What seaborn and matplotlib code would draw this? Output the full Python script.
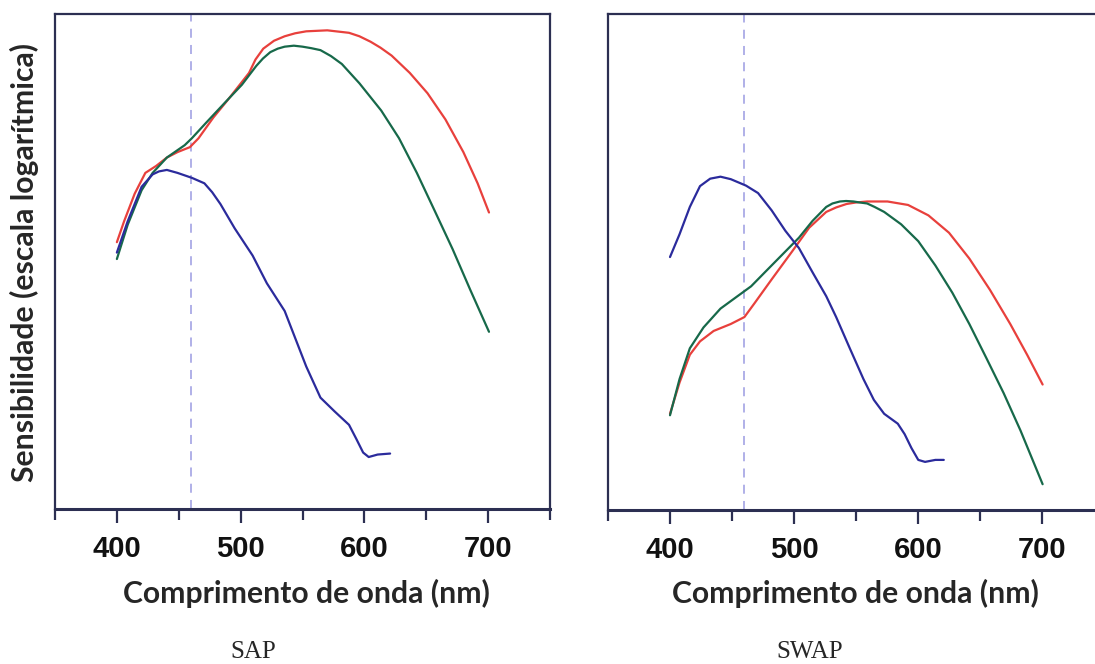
import numpy as np
import pandas as pd
import matplotlib
matplotlib.use('Agg')
import matplotlib.pyplot as plt
import seaborn as sns

# SAP panel (wavelength nm, relative log sensitivity)
sap_red_nm = [400, 405.8, 414.4, 423, 431.7, 440.4, 449, 459, 466, 478, 489.5, 506.8, 512, 518.3,
              527, 535.6, 544, 553, 570, 587.6, 596, 605, 613, 622, 636.7, 651, 665.5, 680, 691.5, 700.7]
sap_red = [53.9, 58.1, 63.7, 67.9, 69.3, 71.0, 72.1, 73.1, 74.9, 79.1, 82.6, 88.1, 90.8, 93.0,
           94.6, 95.5, 96.1, 96.5, 96.7, 96.2, 95.5, 94.4, 93.2, 91.6, 88.1, 84.0, 78.7, 72.1, 65.8, 59.9]
sap_green_nm = [400, 408.7, 420, 428.9, 440.4, 454.8, 460.6, 472, 486.6, 501, 512.6, 518, 524,
                530, 535.6, 543, 550, 557, 564.5, 573, 581.8, 596, 613.6, 628, 642.4, 656.9, 671.3,
                685.7, 700.7]
sap_green = [50.5, 57.4, 64.4, 67.9, 71.0, 73.5, 74.9, 78.0, 81.9, 85.7, 89.5, 91.0, 92.3,
             93.0, 93.4, 93.6, 93.4, 93.1, 92.7, 91.5, 89.9, 86.0, 80.5, 74.9, 67.9, 60.2, 52.5,
             44.2, 35.8]
sap_blue_nm = [400, 408.7, 420, 428.9, 434, 440.4, 449, 460.6, 470.7, 477, 483.7, 495.2, 509.7,
               521.2, 535.6, 544.3, 553, 564.5, 576, 587.6, 593.4, 599, 603.5, 610.7, 620.8]
sap_blue = [51.8, 58.1, 65.1, 67.6, 68.2, 68.5, 67.9, 66.9, 65.8, 64.0, 61.6, 56.7, 51.2,
            45.6, 40.0, 34.4, 28.8, 22.5, 19.7, 17.0, 14.2, 11.4, 10.5, 11.0, 11.2]

# SWAP panel
swap_red_nm = [400, 407.7, 416, 424.2, 435.2, 449, 460, 468.2, 482, 498.4, 512.2, 526,
               534, 542.4, 550, 559, 575.4, 592, 608.4, 625, 641.4, 658, 674.4, 688, 700.5]
swap_red = [19.4, 25.7, 31.3, 34.0, 36.1, 37.5, 38.9, 41.7, 46.5, 52.1, 56.9, 60.1,
            61.0, 61.7, 62.0, 62.2, 62.2, 61.5, 59.4, 55.9, 50.7, 44.4, 37.5, 31.3, 25.3]
swap_green_nm = [400, 407.7, 416, 427, 440.7, 454.4, 465.4, 476.4, 490.2, 504, 515, 526,
                 531, 537, 542, 548, 553, 559, 565, 572.7, 586.4, 600.2, 614, 627.7, 641.4, 655.2,
                 669, 682.7, 700.5]
swap_green = [19.1, 26.4, 32.6, 36.8, 40.6, 43.1, 45.1, 47.9, 51.4, 54.9, 58.3, 61.1,
              61.8, 62.2, 62.3, 62.2, 62.0, 61.8, 61.1, 60.1, 57.6, 54.2, 49.3, 43.8, 37.5, 30.6,
              23.6, 16.0, 5.2]
swap_blue_nm = [400, 407.7, 416, 424.2, 432.4, 440.7, 449, 461.3, 471, 482, 493, 504, 515,
                526, 534, 545, 556, 564.4, 572.7, 583.7, 589.2, 594.7, 600.2, 605.7, 614, 620.8]
swap_blue = [51.0, 55.6, 61.1, 65.3, 66.8, 67.2, 66.7, 65.4, 63.9, 60.4, 56.3, 52.8, 47.9,
             43.1, 38.9, 32.6, 26.4, 22.2, 19.4, 17.4, 15.3, 12.5, 10.1, 9.7, 10.1, 10.1]

cutoff_nm = 460
panel_names = ['SAP', 'SWAP']
x_label = 'Comprimento de onda (nm)'
y_label = 'Sensibilidade (escala logarítmica)'


def build(red_nm, red, green_nm, green, blue_nm, blue):
    parts = []
    for name, xs, ys in [('red', red_nm, red), ('green', green_nm, green), ('blue', blue_nm, blue)]:
        parts.append(pd.DataFrame({'nm': xs, 'sens': ys, 'cone': name}))
    return pd.concat(parts, ignore_index=True)


panels = [build(sap_red_nm, sap_red, sap_green_nm, sap_green, sap_blue_nm, sap_blue),
          build(swap_red_nm, swap_red, swap_green_nm, swap_green, swap_blue_nm, swap_blue)]

palette = {'red': '#e8403c', 'green': '#17694a', 'blue': '#2b2b9c'}
spine_col = '#2c2f52'

sns.set_style('white')
plt.rcParams['font.family'] = ['Liberation Sans', 'DejaVu Sans']

W, H = 1095, 664
fig = plt.figure(figsize=(W / 100, H / 100), dpi=100)

ax_boxes = [(55, 14, 550, 509), (608, 14, 1104, 510)]
for df, (x0, y0, x1, y1) in zip(panels, ax_boxes):
    ax = fig.add_axes([x0 / W, 1 - y1 / H, (x1 - x0) / W, (y1 - y0) / H])
    ax.axvline(cutoff_nm, color='#aaaae6', lw=1.3, ls=(0, (5, 4)), zorder=1)
    sns.lineplot(data=df, x='nm', y='sens', hue='cone', palette=palette,
                 estimator=None, lw=1.6, legend=False, ax=ax)
    ax.set_xlim(350, 750)
    ax.set_ylim(0, 100)
    ax.set_xticks([400, 500, 600, 700])
    ax.set_xticks([350, 450, 550, 650, 750], minor=True)
    ax.set_yticks([])
    ax.set_xlabel('')
    ax.set_ylabel('')
    ax.tick_params(axis='x', which='both', bottom=True, direction='out', length=10,
                   width=1.6, color=spine_col, pad=9)
    ax.tick_params(axis='x', which='minor', length=8)
    for lab in ax.get_xticklabels():
        lab.set_fontsize(21)
        lab.set_fontweight('bold')
        lab.set_color('#111111')
    for sp in ax.spines.values():
        sp.set_visible(True)
        sp.set_color(spine_col)
        sp.set_linewidth(1.6)
    ax.spines['bottom'].set_linewidth(2.2)

lab_font = ['Lato', 'DejaVu Sans']
fig.text(306 / W, 1 - 593 / H, x_label, ha='center', va='center', fontsize=21.7,
         fontweight='bold', family=lab_font)
fig.text(855 / W, 1 - 593 / H, x_label, ha='center', va='center', fontsize=21.7,
         fontweight='bold', family=lab_font)
fig.text(24 / W, 1 - 263 / H, y_label, ha='center', va='center', rotation=90,
         fontsize=21.7, fontweight='bold', family=lab_font)

fig.text(253 / W, 1 - 652 / H, panel_names[0], ha='center', va='center', fontsize=18,
         family=['Liberation Serif', 'DejaVu Serif'])
fig.text(810 / W, 1 - 652 / H, panel_names[1], ha='center', va='center', fontsize=18,
         family=['Liberation Serif', 'DejaVu Serif'])

fig.savefig('out.png', dpi=100)
